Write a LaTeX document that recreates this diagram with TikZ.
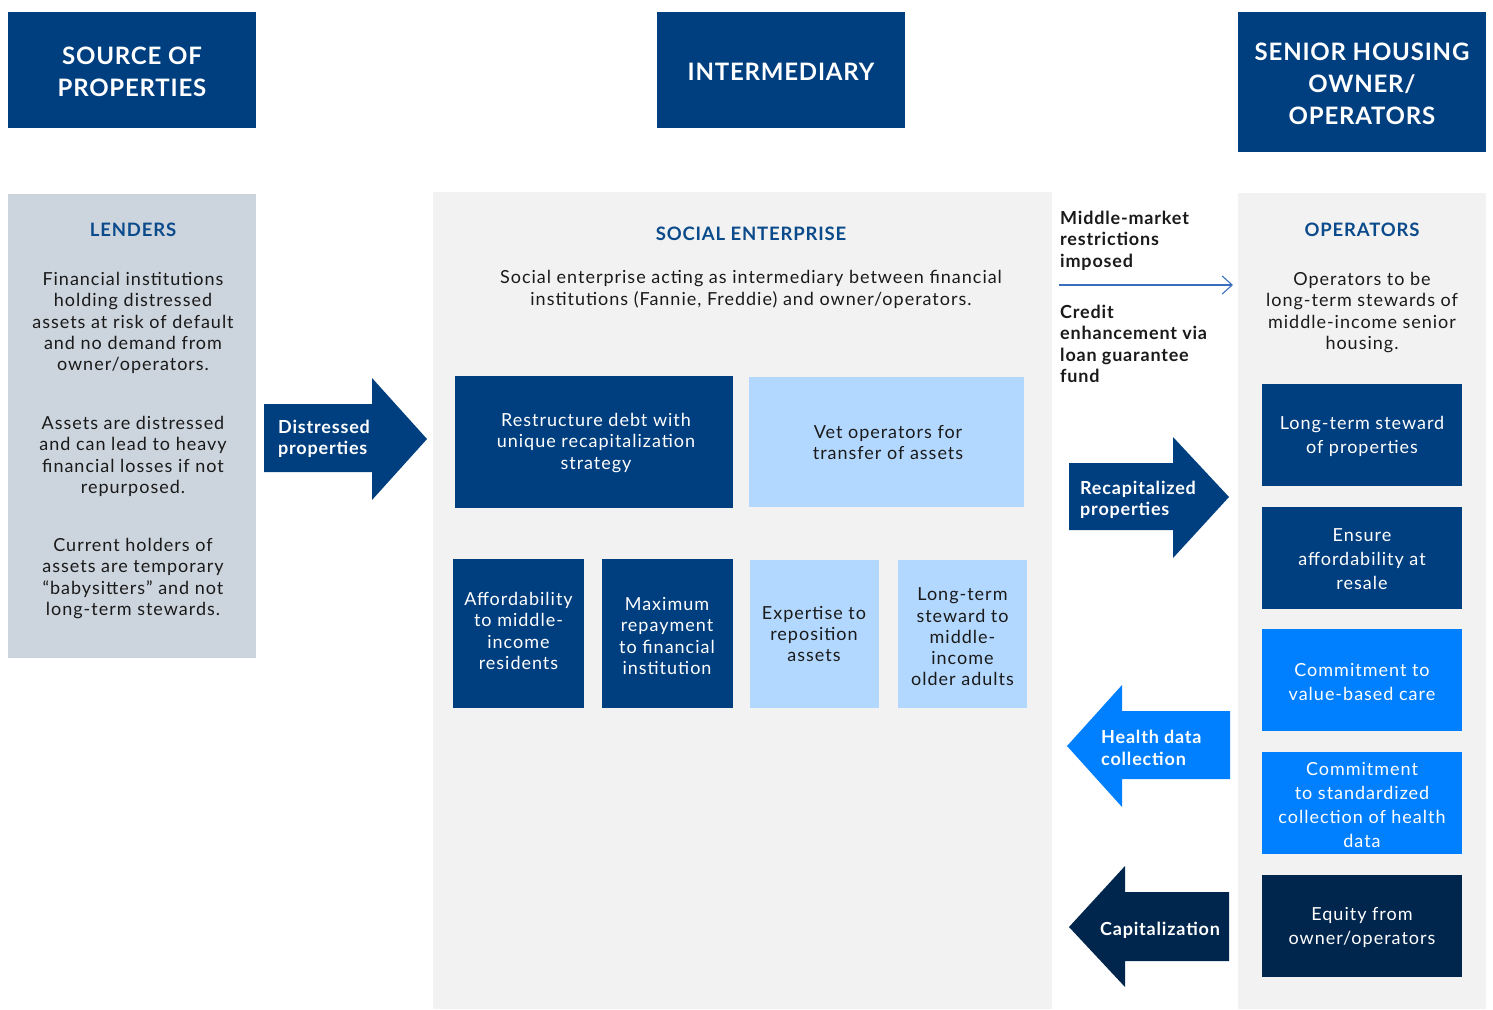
\documentclass[tikz,border=0pt]{standalone}
\usepackage{fontspec}
\setmainfont{Lato}[LetterSpace=5.5]
\newfontfamily\hdrfont{Lato}[LetterSpace=3.3]
\newfontfamily\ttlfont{Lato}[LetterSpace=4.5]
\newfontfamily\bldfont{Lato}[LetterSpace=4.5]
\usetikzlibrary{arrows.meta}
\definecolor{dblue}{HTML}{003F7F}
\definecolor{navy}{HTML}{00264D}
\definecolor{bblue}{HTML}{0080FF}
\definecolor{lblue}{HTML}{B3D8FF}
\definecolor{lgray}{HTML}{CCD4DD}
\definecolor{pgray}{HTML}{F2F2F2}
\definecolor{tblue}{HTML}{0B4A8B}
\definecolor{txt}{HTML}{1A1A1A}
\definecolor{lineblue}{HTML}{3A6FBF}
\tikzset{
  hdr/.style={fill=dblue, text=white, inner sep=0pt, align=center, font=\hdrfont\fontsize{24}{32}\selectfont\bfseries},
  hdrtxt/.style={text=white, inner sep=0pt, align=center, yshift=-2pt, font=\hdrfont\fontsize{24}{32}\selectfont\bfseries},
  panel/.style={inner sep=0pt},
  ttl/.style={text=tblue, inner sep=0pt, font=\ttlfont\fontsize{18.5}{22}\selectfont\bfseries},
  body/.style={text=txt, inner sep=0pt, align=center, yshift=-2.5pt, font=\fontsize{18}{21.3}\selectfont},
  midbox/.style={inner sep=0pt, align=center, text depth=0pt, font=\fontsize{18}{21.3}\selectfont},
  boxtxt/.style={inner sep=0pt, align=center, font=\fontsize{18}{21.3}\selectfont},
  rbox/.style={inner sep=0pt, minimum width=200pt, minimum height=102pt},
  rtxt/.style={inner sep=0pt, align=center, text=white, yshift=-1.5pt, font=\fontsize{18}{24}\selectfont},
  arrtxt/.style={text=white, inner sep=0pt, align=left, yshift=-2pt, font=\bldfont\fontsize{18}{21.3}\selectfont\bfseries},
  sidetxt/.style={text=txt, inner sep=0pt, align=left, anchor=north west, font=\bldfont\fontsize{18}{21.3}\selectfont\bfseries},
}
\begin{document}
\begin{tikzpicture}[x=1pt,y=-1pt]
\useasboundingbox (0,0) rectangle (1493,1009);
% headers
\node[hdr, minimum width=248pt, minimum height=116pt] (h1) at (132,70) {};
\node[hdrtxt] (h1t) at (h1.center) {SOURCE OF\\PROPERTIES};
\node[hdr, minimum width=248pt, minimum height=116pt] (h2) at (781,70) {};
\node[hdrtxt] (h2t) at (h2.center) {INTERMEDIARY};
\node[hdr, minimum width=248pt, minimum height=140pt] (h3) at (1362,82) {};
\node[hdrtxt] (h3t) at (h3.center) {SENIOR HOUSING\\OWNER/\\OPERATORS};
% panels
\node[panel, fill=lgray, minimum width=248pt, minimum height=464pt] (lend) at (132,426) {};
\node[panel, fill=pgray, minimum width=619pt, minimum height=817pt] (soc) at (742.5,600.5) {};
\node[panel, fill=pgray, minimum width=248pt, minimum height=816pt] (ops) at (1362,601) {};
% lenders
\node[ttl] (lendt) at (133,230) {LENDERS};
\node[body] (l1) at (133,320.5) {Financial institutions\\holding distressed\\assets at risk of default\\and no demand from\\owner/operators.};
\node[body] (l2) at (133,454) {Assets are distressed\\and can lead to heavy\\financial losses if not\\repurposed.};
\node[body] (l3) at (133,576) {Current holders of\\assets are temporary\\“babysitters” and not\\long-term stewards.};
% social enterprise
\node[ttl] (soct) at (751,234) {SOCIAL ENTERPRISE};
\node[body] (socd) at (751,287) {Social enterprise acting as intermediary between financial\\institutions (Fannie, Freddie) and owner/operators.};
\node[midbox, fill=dblue, minimum width=278pt, minimum height=132pt] (restr) at (594,442) {};
\node[boxtxt, text=white] (restrt) at (596,443) {Restructure debt with\\unique recapitalization\\strategy};
\node[midbox, fill=lblue, minimum width=275pt, minimum height=130pt] (vet) at (886.5,442) {};
\node[boxtxt, text=txt] (vett) at (888,442.5) {Vet operators for\\transfer of assets};
\node[midbox, fill=dblue, minimum width=131pt, minimum height=149pt] (aff) at (518.5,633.5) {};
\node[boxtxt, text=white] (afft) at (518.5,631) {Affordability\\to middle-\\income\\residents};
\node[midbox, fill=dblue, minimum width=131pt, minimum height=149pt] (maxr) at (667.5,633.5) {};
\node[boxtxt, text=white] (maxrt) at (667,636) {Maximum\\repayment\\to financial\\institution};
\node[midbox, fill=lblue, minimum width=129pt, minimum height=148pt] (exp) at (814.5,634) {};
\node[boxtxt, text=txt] (expt) at (814,634) {Expertise to\\reposition\\assets};
\node[midbox, fill=lblue, minimum width=129pt, minimum height=148pt] (lts) at (962.5,634) {};
\node[boxtxt, text=txt] (ltst) at (962.5,637) {Long-term\\steward to\\middle-\\income\\older adults};
% operators
\node[ttl] (opst) at (1362,230) {OPERATORS};
\node[body] (opsd) at (1362,310) {Operators to be\\long-term stewards of\\middle-income senior\\housing.};
\node[rbox, fill=dblue] (r1) at (1362,435) {};
\node[rtxt] (r1t) at (r1.center) {Long-term steward\\of properties};
\node[rbox, fill=dblue] (r2) at (1362,558) {};
\node[rtxt] (r2t) at (r2.center) {Ensure\\affordability at\\resale};
\node[rbox, fill=bblue] (r3) at (1362,680) {};
\node[rtxt] (r3t) at (r3.center) {Commitment to\\value-based care};
\node[rbox, fill=bblue] (r4) at (1362,803) {};
\node[rtxt] (r4t) at (r4.center) {Commitment\\to standardized\\collection of health\\data};
\node[rbox, fill=navy] (r5) at (1362,926) {};
\node[rtxt] (r5t) at (r5.center) {Equity from\\owner/operators};
% middle-market text and arrow
\node[sidetxt] (mm) at (1060,211) {Middle-market\\restrictions\\imposed};
\node[sidetxt] (ce) at (1060,305) {Credit\\enhancement via\\loan guarantee\\fund};
\coordinate (mmA) at (1059,285);
\coordinate (mmB) at (1233,285);
\draw[lineblue, line width=1.1pt, -{Straight Barb[length=10pt,width=18pt,line width=1.1pt]}] (mmA) -- (mmB);
% big arrows
\fill[dblue] (264,404) -- (372,404) -- (372,378) -- (427,439) -- (372,500) -- (372,472) -- (264,472) -- cycle;
\node[arrtxt, anchor=west] (dist) at (278,437) {Distressed\\properties};
\fill[dblue] (1069,463) -- (1173,463) -- (1173,437) -- (1229,497) -- (1173,558) -- (1173,530) -- (1069,530) -- cycle;
\node[arrtxt, anchor=west] (recap) at (1080,498) {Recapitalized\\properties};
\fill[bblue] (1230,711) -- (1122,711) -- (1122,685) -- (1067,746) -- (1122,807) -- (1122,779) -- (1230,779) -- cycle;
\node[arrtxt, anchor=west] (hdc) at (1101,746) {Health data\\collection};
\fill[navy] (1229,892) -- (1125,892) -- (1125,866) -- (1069,927) -- (1125,987) -- (1125,961) -- (1229,961) -- cycle;
\node[arrtxt] (capz) at (1160,928) {Capitalization};
\end{tikzpicture}
\end{document}
